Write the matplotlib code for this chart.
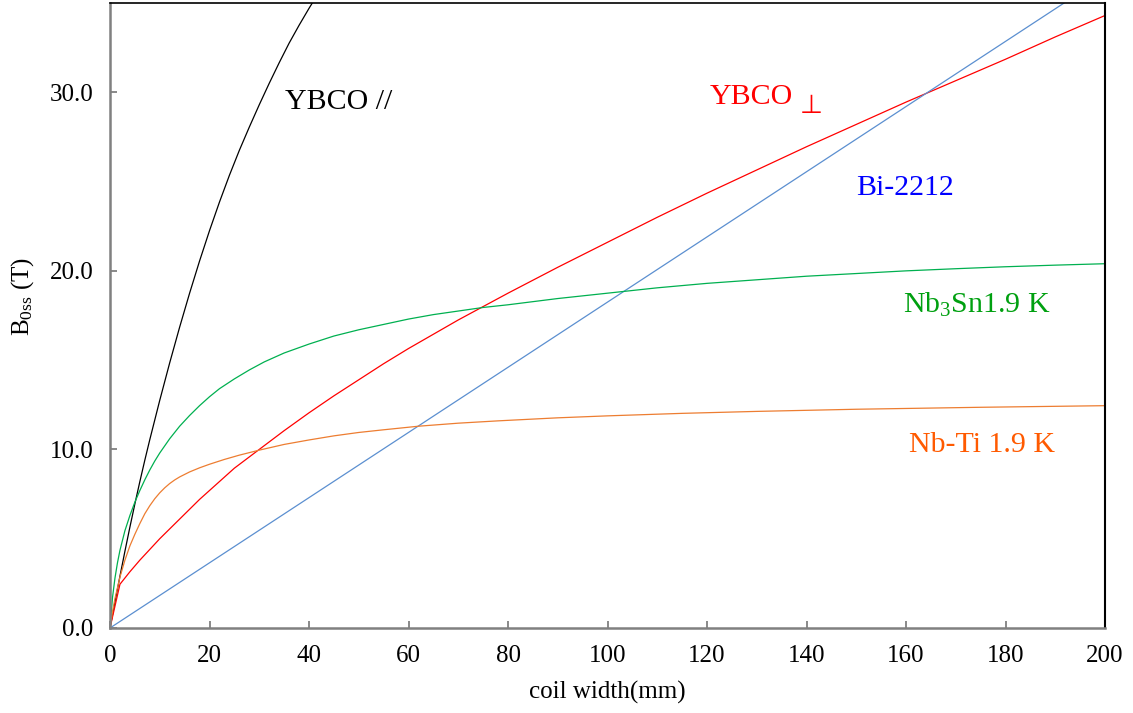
import matplotlib
matplotlib.use("Agg")
import matplotlib.pyplot as plt

plt.rcParams["font.family"] = ["Liberation Serif", "DejaVu Serif"]
plt.rcParams["mathtext.fontset"] = "custom"
plt.rcParams["mathtext.rm"] = "Liberation Serif"
plt.rcParams["mathtext.it"] = "Liberation Serif:italic"

# YBCO parallel field (black)
ybco_par_x = [0, 1, 2, 3, 4, 5, 6, 7, 8, 10, 12, 14, 16, 18, 20, 22, 24, 26, 28, 30,
              32, 34, 36, 38, 40, 42, 44]
ybco_par_y = [0, 1.46, 2.9, 4.3, 5.65, 6.95, 8.2, 9.4, 10.55, 12.75, 14.85, 16.85, 18.75,
              20.55, 22.25, 23.85, 25.35, 26.75, 28.05, 29.3, 30.5, 31.65, 32.75, 33.75,
              34.7, 35.6, 36.4]

# YBCO perpendicular field (red)
ybco_perp_x = [0, 2, 4, 6, 8, 10, 12, 14, 16, 18, 20, 22, 25, 30, 35, 40, 45, 50, 55, 60,
               65, 70, 75, 80, 90, 100, 110, 120, 130, 140, 150, 160, 170, 180, 190, 200]
ybco_perp_y = [0, 2.45, 3.15, 3.8, 4.4, 5.0, 5.55, 6.1, 6.65, 7.2, 7.7, 8.2, 8.95, 10.0,
               11.05, 12.05, 13.0, 13.9, 14.8, 15.65, 16.45, 17.25, 18.0, 18.75, 20.2, 21.6,
               23.0, 24.35, 25.65, 26.95, 28.2, 29.45, 30.65, 31.85, 33.1, 34.3]

# Bi-2212 (blue)
bi_x = [0, 20, 40, 60, 80, 100, 120, 140, 160, 180, 200]
bi_y = [0, 3.65, 7.3, 10.95, 14.6, 18.25, 21.9, 25.55, 29.2, 32.85, 36.5]

# Nb3Sn 1.9 K (green)
nb3sn_x = [0, 0.5, 1, 1.5, 2, 3, 4, 5, 6, 7, 8, 9, 10, 12, 14, 16, 18, 20, 22, 25, 28, 31,
           35, 40, 45, 50, 55, 60, 65, 70, 75, 80, 90, 100, 110, 120, 130, 140, 150, 160,
           170, 180, 190, 200]
nb3sn_y = [0, 1.7, 2.8, 3.65, 4.35, 5.45, 6.3, 7.05, 7.7, 8.3, 8.85, 9.35, 9.8, 10.6, 11.3,
           11.9, 12.45, 12.95, 13.4, 13.95, 14.45, 14.9, 15.4, 15.9, 16.35, 16.7, 17.0, 17.3,
           17.55, 17.75, 17.95, 18.1, 18.45, 18.75, 19.05, 19.3, 19.5, 19.7, 19.85, 20.0,
           20.12, 20.23, 20.32, 20.4]

# Nb-Ti 1.9 K (orange)
nbti_x = [0, 0.5, 1, 2, 3, 4, 5, 6, 7, 8, 9, 10, 11, 12, 13, 14, 16, 18, 20, 23, 26, 30,
          35, 40, 45, 50, 55, 62, 70, 78, 90, 100, 115, 130, 150, 175, 200]
nbti_y = [0, 0.9, 1.65, 2.85, 3.8, 4.6, 5.25, 5.85, 6.4, 6.85, 7.24, 7.57, 7.85, 8.09,
          8.29, 8.46, 8.74, 8.97, 9.17, 9.44, 9.68, 9.96, 10.28, 10.53, 10.76, 10.95, 11.1,
          11.3, 11.47, 11.6, 11.77, 11.88, 12.02, 12.13, 12.25, 12.36, 12.45]

x_ticks = [0, 20, 40, 60, 80, 100, 120, 140, 160, 180, 200]
y_ticks = [0, 10, 20, 30]

fig = plt.figure(figsize=(11.33, 7.13), dpi=100)
ax = fig.add_axes([110 / 1133, 1 - 628 / 713, 995 / 1133, 625 / 713])

lw = 0.9
ax.plot(ybco_par_x, ybco_par_y, color="black", linewidth=lw)
ax.plot(ybco_perp_x, ybco_perp_y, color="#FF0000", linewidth=lw)
ax.plot(bi_x, bi_y, color="#5B8FD0", linewidth=lw)
ax.plot(nb3sn_x, nb3sn_y, color="#00B050", linewidth=lw)
ax.plot(nbti_x, nbti_y, color="#ED7D31", linewidth=lw)

ax.set_xlim(0, 200)
ax.set_ylim(0, 35)
ax.set_xticks(x_ticks)
ax.set_yticks(y_ticks)
ax.set_yticklabels([f"{v:.1f}" for v in y_ticks])

for side in ("left", "bottom"):
    ax.spines[side].set_color("#808080")
    ax.spines[side].set_linewidth(1.8)
ax.spines["top"].set_color("black")
ax.spines["top"].set_linewidth(1.2)
ax.spines["right"].set_color("black")
ax.spines["right"].set_linewidth(1.5)

ax.tick_params(direction="in", color="#808080", width=1.3, length=5,
               labelsize=18, labelcolor="black")
ax.tick_params(axis="x", pad=12)
ax.tick_params(axis="y", pad=12)

ax.set_xlabel("coil width(mm)", fontsize=18, labelpad=10)
ax.set_ylabel(r"B$_\mathrm{0ss}$ (T)", fontsize=18)
ax.yaxis.set_label_coords(-0.074, 0.53)

# curve labels
ax.text(35.2, 29.05, "YBCO //", color="black", fontsize=21.5, ha="left", va="baseline")
ax.text(120.6, 29.35, "YBCO", color="#FF0000", fontsize=21.5, ha="left", va="baseline")
ax.text(138.6, 28.85, "\u22a5", color="#FF0000", fontsize=19, ha="left", va="baseline",
        family=["DejaVu Sans"])
ax.text(149.9, 24.23, "Bi-2212", color="#0000FF", fontsize=21.5, ha="left", va="baseline")
ax.text(159.4, 17.67, r"Nb$_\mathrm{3}$Sn1.9 K", color="#00A010", fontsize=21.5,
        ha="left", va="baseline")
ax.text(160.6, 9.83, "Nb-Ti 1.9 K", color="#FF5A00", fontsize=21.5, ha="left", va="baseline")

plt.savefig("out.png", dpi=100)
